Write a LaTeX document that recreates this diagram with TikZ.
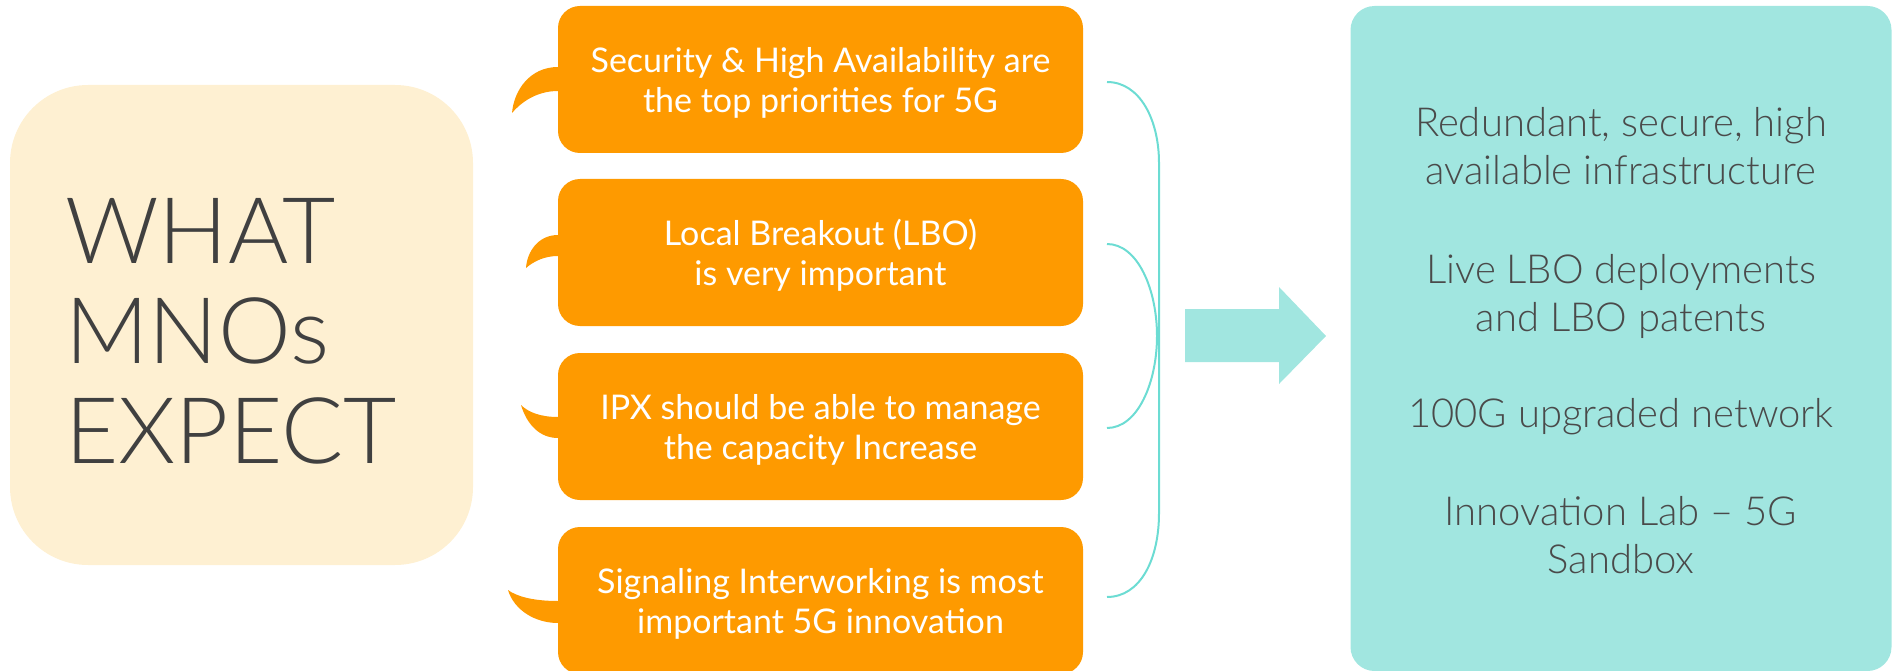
\documentclass[tikz,border=0pt]{standalone}
\usepackage{fontspec}
\setmainfont{Lato}
\newfontfamily\latolight{Lato Light}
\usetikzlibrary{calc}
\definecolor{cream}{HTML}{FEF0D2}
\definecolor{orangebox}{HTML}{FE9A00}
\definecolor{tealbox}{HTML}{A1E6E0}
\definecolor{tealline}{HTML}{6CDCD3}
\definecolor{darktext}{HTML}{404040}
\definecolor{tealtext}{HTML}{4A4A4A}
\tikzset{
  obox/.style={fill=orangebox, rounded corners=22pt, minimum width=525pt, minimum height=147pt,
    inner sep=0pt, text=white, align=center, text depth=0pt,
    font=\fontsize{34}{40}\selectfont},
  tail/.style={fill=orangebox},
  brace/.style={draw=tealline, line width=2pt},
  tealtxt/.style={text=tealtext, align=center, inner sep=0pt, text depth=0pt,
    font=\latolight\fontsize{40}{48.5}\selectfont},
}
\begin{document}
\begin{tikzpicture}[x=1pt,y=-1pt]
\useasboundingbox (0,0) rectangle (1892,671);
% left box
\node[fill=cream, rounded corners=78pt, minimum width=463pt, minimum height=480pt, inner sep=0pt] (left) at (241.5,325) {};
\node[anchor=south west, inner sep=0pt, align=left, text=darktext, text depth=0pt,
  font=\latolight\fontsize{92}{100}\selectfont] (title) at (65,464) {WHAT\\MNOs\\EXPECT};
% orange boxes
\node[obox] (o1) at (820.5,79.5) {Security \& High Availability are\\the top priorities for 5G};
\node[obox] (o2) at (820.5,252.5) {Local Breakout (LBO)\\is very important};
\node[obox] (o3) at (820.5,426.5) {IPX should be able to manage\\the capacity Increase};
\node[obox] (o4) at (820.5,600.5) {Signaling Interworking is most\\important 5G innovation};
% tails
\fill[tail] (559,67) -- (558,67) .. controls (530,67) and (514,90) .. (512,113) .. controls (524,99) and (540,91) .. (558,91) -- (559,91) -- cycle;
\fill[tail] (559,235) -- (558,235) .. controls (538,235) and (527,252) .. (526,268) .. controls (534,261) and (545,256) .. (558,256) -- (559,256) -- cycle;
\fill[tail] (559,417) -- (558,417) .. controls (540,417) and (528,412) .. (521,405) .. controls (527,425) and (540,438) .. (558,438) -- (559,438) -- cycle;
\fill[tail] (559,601) -- (558,601) .. controls (532,601) and (516,596) .. (508,590) .. controls (514,610) and (535,623) .. (558,623) -- (559,623) -- cycle;
% braces
\coordinate (b1a) at (1107,82);
\coordinate (b1b) at (1107,597);
\coordinate (b2a) at (1107,244);
\coordinate (b2b) at (1107,428);
\draw[brace] (b1a) .. controls (1140,82) and (1159,120) .. (1159,163) -- (1159,513) .. controls (1159,560) and (1140,597) .. (b1b);
\draw[brace] (b2a) .. controls (1138,244) and (1157,290) .. (1157,336) .. controls (1157,382) and (1138,428) .. (b2b);
% arrow
\fill[tealbox] (1185,309) -- (1279,309) -- (1279,287) -- (1326,336) -- (1279,384) -- (1279,362) -- (1185,362) -- cycle;
% right box
\node[fill=tealbox, rounded corners=24pt, minimum width=541pt, minimum height=665pt, inner sep=0pt] (right) at (1621,338.5) {};
\node[tealtxt, anchor=south] (t1) at (1621,185) {Redundant, secure, high\\available infrastructure};
\node[tealtxt, anchor=south] (t2) at (1621,332) {Live LBO deployments\\and LBO patents};
\node[tealtxt, anchor=south] (t3) at (1621,428) {100G upgraded network};
\node[tealtxt, anchor=south] (t4) at (1621,574) {Innovation Lab – 5G\\Sandbox};
\end{tikzpicture}
\end{document}
